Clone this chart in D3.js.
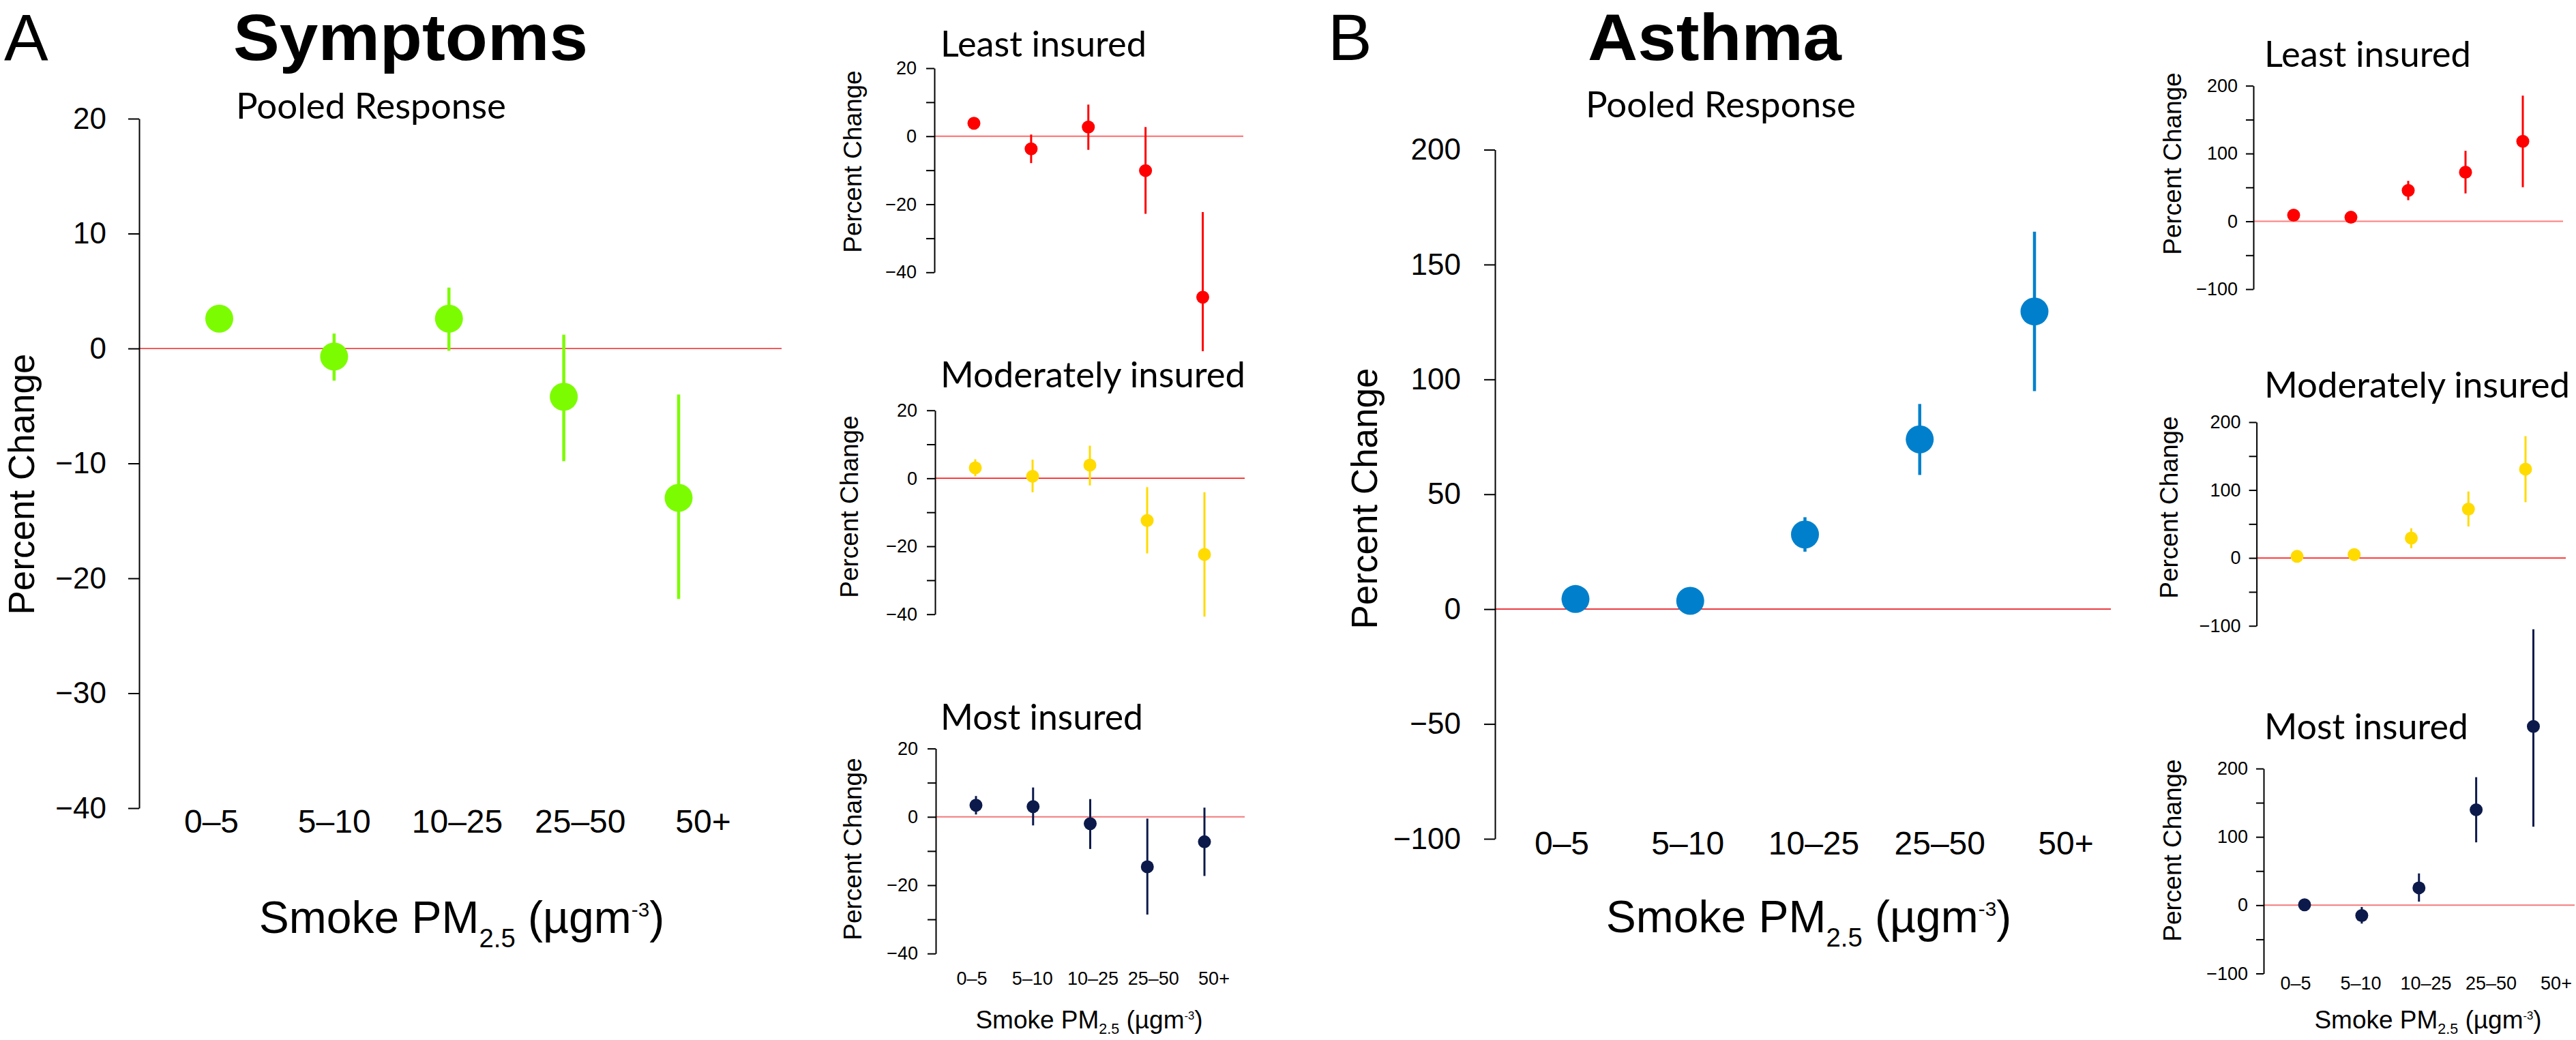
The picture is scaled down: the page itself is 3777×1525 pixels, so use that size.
<!DOCTYPE html>
<html><head><meta charset="utf-8">
<script src="https://cdn.jsdelivr.net/npm/d3@7"></script>
<style>body{margin:0;background:#fff}</style>
</head><body><svg id="c" width="3777" height="1525" style="background:#fff"></svg>
<script>
// ---------- DATA ----------
const categories = ["0–5", "5–10", "10–25", "25–50", "50+"];
const symptomsTicks = [-40, -30, -20, -10, 0, 10, 20];
const symptomsSmallLabels = [-40, -20, 0, 20];
const asthmaTicks = [-100, -50, 0, 50, 100, 150, 200];
const asthmaSmallLabels = [-100, 0, 100, 200];
const groupNames = ["Least insured", "Moderately insured", "Most insured"];

// Symptoms (percent change, point estimate and 95% CI)
const symPooledEst = [2.6, -0.7, 2.6, -4.2, -13.0];
const symPooledLo  = [1.8, -2.8, -0.2, -9.8, -21.8];
const symPooledHi  = [3.4, 1.3, 5.3, 1.2, -4.0];
const symLeastEst = [3.8, -3.7, 2.7, -10.1, -47.3];
const symLeastLo  = [2.5, -7.9, -4.0, -22.8, -63.2];
const symLeastHi  = [5.0, 0.5, 9.3, 2.7, -22.3];
const symModEst = [3.1, 0.6, 3.9, -12.4, -22.4];
const symModLo  = [0.6, -4.1, -2.1, -22.1, -40.7];
const symModHi  = [5.6, 5.5, 9.6, -2.6, -4.1];
const symMostEst = [3.4, 3.0, -2.0, -14.6, -7.3];
const symMostLo  = [0.7, -2.5, -9.4, -28.6, -17.3];
const symMostHi  = [6.1, 8.6, 5.2, -0.5, 2.7];

// Asthma
const asPooledEst = [4.4, 3.6, 32.5, 73.9, 129.6];
const asPooledLo  = [1.5, 0.8, 25.0, 58.4, 94.9];
const asPooledHi  = [7.3, 6.4, 40.0, 89.3, 164.3];
const asLeastEst = [9.1, 6.0, 45.6, 72.4, 118.0];
const asLeastLo  = [5.0, 2.5, 31.2, 41.2, 50.3];
const asLeastHi  = [13.0, 9.5, 59.7, 104.0, 185.4];
const asModEst = [2.3, 5.0, 29.2, 72.0, 130.8];
const asModLo  = [0.0, 2.0, 14.4, 46.3, 82.1];
const asModHi  = [4.6, 8.0, 43.6, 97.9, 179.4];
const asMostEst = [0.5, -15.2, 25.4, 139.7, 261.6];
const asMostLo  = [-3.0, -26.9, 5.2, 92.0, 115.0];
const asMostHi  = [4.0, -2.6, 46.5, 187.4, 404.0];

// ---------- DRAWING ----------
const svg = d3.select("#c");
const HELV = "'Liberation Sans', Arial, Helvetica, sans-serif";
const MYR = "Lato, 'Open Sans', 'Noto Sans', sans-serif";

function xTitle(g, x, y, fs, subShift) {
  const t = g.append("text").attr("x", x).attr("y", y).attr("text-anchor", "middle")
    .attr("font-family", HELV).attr("font-size", fs).attr("fill", "#000");
  t.append("tspan").text("Smoke PM");
  t.append("tspan").attr("font-size", fs * 0.58).attr("dy", fs * subShift).text("2.5");
  t.append("tspan").attr("dy", -fs * subShift).text(" (µgm");
  t.append("tspan").attr("font-size", fs * 0.45).attr("dy", -fs * 0.36).text("-3");
  t.append("tspan").attr("dy", fs * 0.36).text(")");
}

function panel(o) {
  const g = svg.append("g");
  const y = d3.scaleLinear().domain(o.domain).range(o.yRange);
  const x = d3.scalePoint().domain(categories).range(o.xRange);

  g.append("line").attr("x1", o.axisX).attr("x2", o.zeroEnd)
    .attr("y1", y(0)).attr("y2", y(0))
    .attr("stroke", o.zeroColor).attr("stroke-width", o.zeroWidth);

  const axis = d3.axisLeft(y).tickValues(o.ticks).tickSize(o.tickSize).tickSizeOuter(0)
    .tickPadding(o.tickPad).tickFormat(d => o.labels.includes(d) ? d3.format("")(d) : "");
  const ag = g.append("g").attr("transform", `translate(${o.axisX},0)`).call(axis);
  ag.attr("font-family", null).attr("font-size", null);
  ag.select(".domain").attr("stroke", "#000").attr("stroke-width", o.axisWidth);
  ag.selectAll(".tick line").attr("stroke", "#000").attr("stroke-width", o.axisWidth);
  ag.selectAll(".tick text").attr("font-family", HELV).attr("font-size", o.tickFont)
    .attr("fill", "#000");

  const rows = categories.map((c, i) => ({c, est: o.est[i], lo: o.lo[i], hi: o.hi[i]}));
  g.selectAll("line.err").data(rows).join("line").attr("class", "err")
    .attr("x1", d => x(d.c)).attr("x2", d => x(d.c))
    .attr("y1", d => y(d.lo)).attr("y2", d => y(d.hi))
    .attr("stroke", o.color).attr("stroke-width", o.errWidth);
  g.selectAll("circle.pt").data(rows).join("circle").attr("class", "pt")
    .attr("cx", d => x(d.c)).attr("cy", d => y(d.est)).attr("r", o.r)
    .attr("fill", o.color);

  // y title
  g.append("text").attr("transform", `translate(${o.yTitle[0]},${o.yTitle[1]}) rotate(-90)`)
    .attr("text-anchor", "middle").attr("font-family", HELV).attr("font-size", o.yTitle[2])
    .attr("fill", "#000").text("Percent Change");

  // subtitle
  g.append("text").attr("x", o.sub[0]).attr("y", o.sub[1])
    .attr("text-anchor", o.sub[4] || "start").attr("font-family", MYR).attr("font-size", 53)
    .attr("fill", "#000").attr("textLength", o.sub[2]).attr("lengthAdjust", "spacingAndGlyphs")
    .text(o.sub[3]);

  if (o.xLabels) {
    const xl = d3.scalePoint().domain(categories).range(o.xLabels.range);
    g.selectAll("text.xl").data(categories).join("text").attr("class", "xl")
      .attr("x", d => xl(d)).attr("y", o.xLabels.y).attr("text-anchor", "middle")
      .attr("font-family", HELV).attr("font-size", o.xLabels.font).attr("fill", "#000")
      .text(d => d);
    xTitle(g, o.xTitle[0], o.xTitle[1], o.xTitle[2], o.xTitle[3]);
  }
}

// Panel letters and titles
svg.append("text").attr("x", 6).attr("y", 88).attr("font-family", HELV).attr("font-size", 97).text("A");
svg.append("text").attr("x", 1947).attr("y", 88).attr("font-family", HELV).attr("font-size", 97).text("B");
svg.append("text").attr("x", 602).attr("y", 88).attr("text-anchor", "middle").attr("font-family", HELV)
  .attr("font-weight", "bold").attr("font-size", 97).attr("textLength", 520).attr("lengthAdjust", "spacingAndGlyphs").text("Symptoms");
svg.append("text").attr("x", 2514).attr("y", 88).attr("text-anchor", "middle").attr("font-family", HELV)
  .attr("font-weight", "bold").attr("font-size", 97).attr("textLength", 372).attr("lengthAdjust", "spacingAndGlyphs").text("Asthma");

const GREEN = "#7CFC00", RED = "#FF0000", YEL = "#FFDB00", NAVY = "#0C1A4B", BLUE = "#0080CC";

// Main A
panel({domain: [-40, 20], yRange: [1185, 174], xRange: [321.5, 995], axisX: 204, zeroEnd: 1146,
  zeroColor: "#f25a5a", zeroWidth: 2, ticks: symptomsTicks, labels: symptomsTicks, tickSize: 16,
  tickPad: 32, tickFont: 44, axisWidth: 2, r: 20.5, errWidth: 4.5, color: GREEN,
  est: symPooledEst, lo: symPooledLo, hi: symPooledHi,
  yTitle: [50, 710, 53], sub: [544, 174, 396, "Pooled Response", "middle"],
  xLabels: {range: [310, 1031], y: 1221, font: 48}, xTitle: [677, 1368, 66, 0.32]});

// Main B
panel({domain: [-100, 200], yRange: [1230, 219.5], xRange: [2310, 2983], axisX: 2192, zeroEnd: 3095,
  zeroColor: "#e62128", zeroWidth: 1.6, ticks: asthmaTicks, labels: asthmaTicks, tickSize: 16,
  tickPad: 34, tickFont: 44, axisWidth: 2, r: 20.5, errWidth: 4.5, color: BLUE,
  est: asPooledEst, lo: asPooledLo, hi: asPooledHi,
  yTitle: [2019, 731, 53], sub: [2523, 172, 396, "Pooled Response", "middle"],
  xLabels: {range: [2290, 3029], y: 1253, font: 48}, xTitle: [2652, 1367, 66, 0.32]});

// Small A panels
const smallA = {domain: [-40, 20], ticks: symptomsTicks, labels: symptomsSmallLabels, tickSize: 12,
  tickPad: 14, tickFont: 27, axisWidth: 2, r: 9.5, errWidth: 3};
panel(Object.assign({}, smallA, {yRange: [399.3, 100], xRange: [1428, 1763.5], axisX: 1370, zeroEnd: 1823,
  zeroColor: "#ff6b6b", zeroWidth: 2, color: RED, est: symLeastEst, lo: symLeastLo, hi: symLeastHi,
  yTitle: [1263, 237, 37], sub: [1379, 83, 302, groupNames[0]]}));
panel(Object.assign({}, smallA, {yRange: [900.7, 601.7], xRange: [1430, 1766], axisX: 1371, zeroEnd: 1825,
  zeroColor: "#ff0000", zeroWidth: 1.5, color: YEL, est: symModEst, lo: symModLo, hi: symModHi,
  yTitle: [1258, 743, 37], sub: [1379, 568, 447, groupNames[1]]}));
panel(Object.assign({}, smallA, {yRange: [1398.2, 1097.6], xRange: [1431, 1766], axisX: 1372, zeroEnd: 1825,
  zeroColor: "#f47a7a", zeroWidth: 2, color: NAVY, est: symMostEst, lo: symMostLo, hi: symMostHi,
  yTitle: [1263, 1245, 37], sub: [1379, 1070, 297, groupNames[2]],
  xLabels: {range: [1425, 1780], y: 1444, font: 27}, xTitle: [1597, 1508, 37, 0.22]}));

// Small B panels
const smallB = {domain: [-100, 200], ticks: asthmaTicks, labels: asthmaSmallLabels, tickSize: 11,
  tickPad: 12, tickFont: 27, axisWidth: 2, r: 9.5, errWidth: 3};
panel(Object.assign({}, smallB, {yRange: [424, 125.7], xRange: [3363, 3699], axisX: 3304, zeroEnd: 3758,
  zeroColor: "#ff7f7f", zeroWidth: 2, color: RED, est: asLeastEst, lo: asLeastLo, hi: asLeastHi,
  yTitle: [3198, 240, 37], sub: [3320, 98, 303, groupNames[0]]}));
panel(Object.assign({}, smallB, {yRange: [917.7, 619], xRange: [3368, 3703], axisX: 3308.6, zeroEnd: 3762,
  zeroColor: "#ff0000", zeroWidth: 1.5, color: YEL, est: asModEst, lo: asModLo, hi: asModHi,
  yTitle: [3193, 744, 37], sub: [3320, 583, 448, groupNames[1]]}));
panel(Object.assign({}, smallB, {yRange: [1427.5, 1127], xRange: [3379, 3714.5], axisX: 3319, zeroEnd: 3775,
  zeroColor: "#f47a7a", zeroWidth: 2, color: NAVY, est: asMostEst, lo: asMostLo, hi: asMostHi,
  yTitle: [3198, 1247, 37], sub: [3320, 1084, 299, groupNames[2]],
  xLabels: {range: [3366, 3748], y: 1451, font: 27}, xTitle: [3560, 1508, 37, 0.22]}));
</script>
</body></html>
